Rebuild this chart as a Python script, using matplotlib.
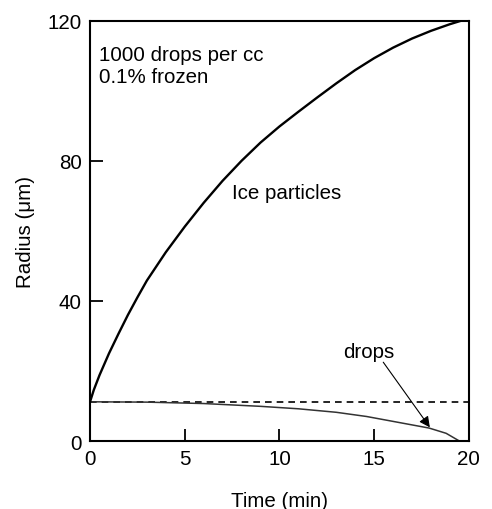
import matplotlib
matplotlib.use('Agg')
import matplotlib.pyplot as plt

plt.rcParams['font.family'] = ['Liberation Sans', 'DejaVu Sans']

# ice particle radius vs time
ice_t = [0, 0.2, 0.5, 1, 1.5, 2, 2.5, 3, 4, 5, 6, 7, 8, 9, 10,
         11, 12, 13, 14, 15, 16, 17, 18, 19, 19.6]
ice_r = [11.2, 14.6, 18.8, 25.0, 30.6, 36.0, 41.0, 45.8, 53.9, 61.2, 68.0, 74.3, 80.0, 85.2, 89.8,
         94.0, 98.1, 102.1, 105.9, 109.3, 112.3, 114.9, 117.1, 119.0, 120.0]

# drop radius vs time
drop_t = [0, 3, 6, 9, 11, 13, 14.6, 16.4, 17.9, 18.8, 19.5]
drop_r = [11.2, 11.1, 10.7, 9.9, 9.2, 8.2, 7.0, 5.2, 3.7, 2.2, 0.0]

# initial drop radius (dashed reference)
init_t = [0, 20]
init_r = [11.2, 11.2]

xticks = [0, 5, 10, 15, 20]
yticks = [0, 40, 80, 120]

fs = 14.8

fig = plt.figure(figsize=(4.92, 5.10), dpi=100)
ax = fig.add_axes([0.183, 0.1333, 0.770, 0.8242])

ax.plot(init_t, init_r, color='black', lw=1.2, dashes=(4, 3))
ax.plot(drop_t, drop_r, color='#333333', lw=1.1)
ax.plot(ice_t, ice_r, color='black', lw=1.7)

ax.annotate('', xy=(17.94, 3.9), xytext=(15.48, 22.5),
            arrowprops=dict(arrowstyle='-|>', color='black', lw=0.8,
                            mutation_scale=16, shrinkA=0, shrinkB=0))

ax.text(0.45, 113.0, '1000 drops per cc\n0.1% frozen', fontsize=fs,
        ha='left', va='top', linespacing=1.2)
ax.text(7.48, 71.0, 'Ice particles', fontsize=fs, ha='left', va='center')
ax.text(14.69, 25.6, 'drops', fontsize=fs, ha='center', va='center')

ax.set_xlim(0, 20)
ax.set_ylim(0, 120)
ax.set_xticks(xticks)
ax.set_yticks(yticks)
ax.tick_params(direction='in', length=9, width=1.3, labelsize=fs, pad=6,
               top=False, right=False)
for s in ax.spines.values():
    s.set_linewidth(1.5)

ax.set_xlabel('Time (min)', fontsize=fs, labelpad=16)
ax.set_ylabel('Radius (\u03bcm)', fontsize=fs, labelpad=9)

fig.savefig('out.png', dpi=100)
